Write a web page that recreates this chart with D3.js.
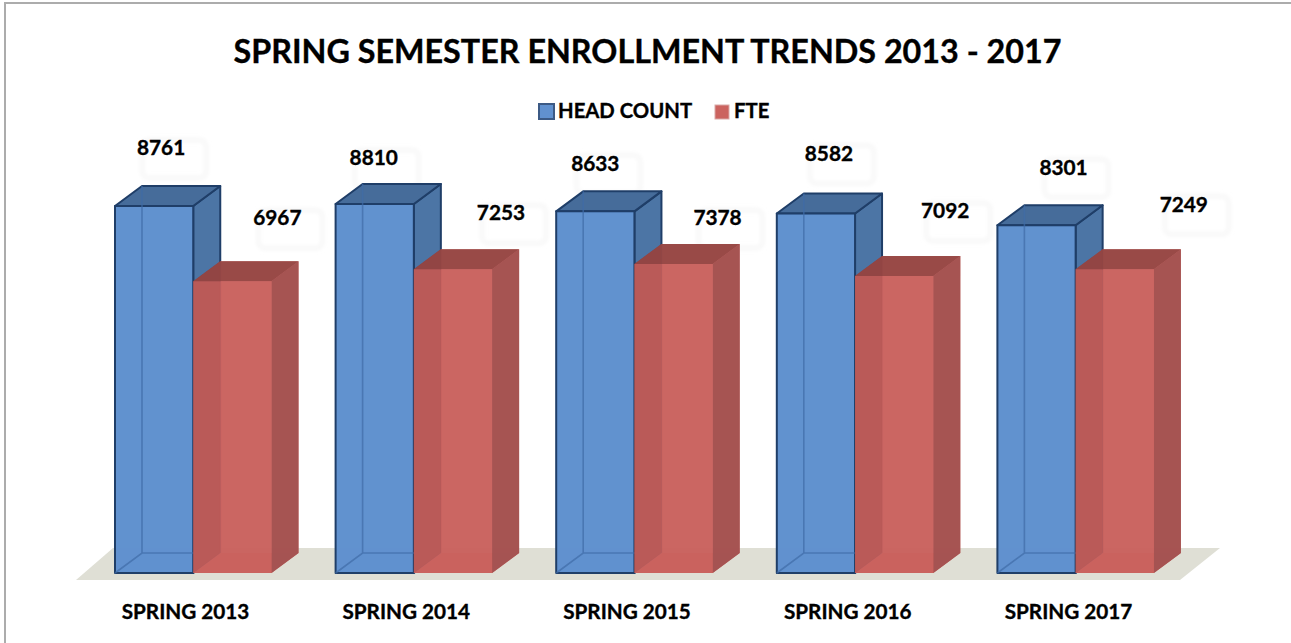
<!DOCTYPE html>
<html><head><meta charset="utf-8">
<script src="https://cdn.jsdelivr.net/npm/d3@7"></script>
<style>html,body{margin:0;padding:0;background:#fff}svg{display:block}text{font-family:Lato,"Open Sans",sans-serif;font-weight:700;fill:#000;stroke:#000;stroke-width:.35px}</style>
</head><body><svg id="c" width="1291" height="643"></svg>
<script>
const categories=["SPRING 2013","SPRING 2014","SPRING 2015","SPRING 2016","SPRING 2017"];
const seriesNames=["HEAD COUNT","FTE"];
const headCount=[8761,8810,8633,8582,8301];
const fte=[6967,7253,7378,7092,7249];
// manual label placement, as in the reference: [dx from bar centre, dy above bar top]
const headNudge=[[7,58],[-1,46],[0,48],[13,60],[27,58]];
const fteNudge=[[45,63],[48,56],[44,46],[51,65],[69,65]];

const W=1291,H=643,dx=27,dy=-20,baseY=573;
const svg=d3.select("#c");
const x=d3.scaleBand().domain(categories).range([115,1218]);
const inner=d3.scaleBand().domain(seriesNames).range([0,156.5]);
const y=d3.scaleLinear().domain([0,8761]).range([baseY,206]);
const pal={
 "HEAD COUNT":{front:"#6191cf",side:"#4b73a2",top:"#436795",back:"#5a89c4",left:"#5a89c4",floor:"#5f8ecb",stroke:"#1f3e68",sw:2,frontOp:.9,inner:"#3f6ba6"},
 "FTE":{front:"#cb635f",side:"#a35251",top:"#934644",back:"#c8605c",left:"#8f3c3c",floor:"#c8605c",stroke:"none",sw:0,frontOp:.76,inner:"#b05050"}
};
const blur=svg.append("defs").append("filter").attr("id","b").attr("x","-30%").attr("y","-30%").attr("width","160%").attr("height","160%");
blur.append("feGaussianBlur").attr("stdDeviation",2);

// image frame: top and left only
svg.append("path").attr("d",`M5,${H} V3 H${W}`).attr("fill","none").attr("stroke","#acacac").attr("stroke-width",2);

// floor
svg.append("polygon").attr("fill","#dfdfd5")
 .attr("points",[[76,580],[113,548],[1220,548],[1180,580]].join(" "));

svg.append("text").attr("x",647.5).attr("y",63).attr("text-anchor","middle")
 .attr("font-size",32.3).text("SPRING SEMESTER ENROLLMENT TRENDS 2013 - 2017");

const poly=(g,pts,fill,op,stroke,sw)=>g.append("polygon").attr("points",pts.join(" "))
  .attr("fill",fill).attr("fill-opacity",op).attr("stroke",stroke||"none").attr("stroke-width",sw||0).attr("stroke-linejoin","round");

const rows=categories.flatMap((c,i)=>[
 {c,s:seriesNames[0],v:headCount[i],n:headNudge[i]},
 {c,s:seriesNames[1],v:fte[i],n:fteNudge[i]}]);

// faint ghost boxes behind everything
rows.forEach(r=>{
 const L=x(r.c)+inner(r.s),R=L+inner.bandwidth();
 r.labelX=(L+R)/2+r.n[0]; r.labelY=y(r.v)-r.n[1];
 svg.append("rect").attr("x",r.labelX-19).attr("y",r.labelY-8).attr("width",64).attr("height",38).attr("rx",6)
  .attr("fill","none").attr("stroke","#f4f4f4").attr("stroke-width",3).attr("filter","url(#b)");
});

rows.forEach(r=>{
 const g=svg.append("g"),p=pal[r.s];
 const L=x(r.c)+inner(r.s),R=L+inner.bandwidth(),T=y(r.v),B=y(0);
 poly(g,[[L+dx,T+dy],[R+dx,T+dy],[R+dx,B+dy],[L+dx,B+dy]],p.back,.9);
 poly(g,[[L,T],[L+dx,T+dy],[L+dx,B+dy],[L,B]],p.left,.9);
 poly(g,[[L,B],[R,B],[R+dx,B+dy],[L+dx,B+dy]],p.floor,1);
 poly(g,[[R,T],[R+dx,T+dy],[R+dx,B+dy],[R,B]],p.side,.95,p.stroke,p.sw);
 poly(g,[[L,T],[L+dx,T+dy],[R+dx,T+dy],[R,T]],p.top,.9,p.stroke,p.sw);
 poly(g,[[L,T],[R,T],[R,B],[L,B]],p.front,p.frontOp,p.stroke,p.sw);
 if(r.s==="HEAD COUNT") g.append("path").attr("fill","none").attr("stroke",p.inner).attr("stroke-width",1.6).attr("stroke-opacity",.7)
  .attr("d",`M${L+dx},${T+dy}V${B+dy}M${L},${B}L${L+dx},${B+dy}H${R+dx}`);
});
rows.forEach(r=>{
 svg.append("text").attr("x",r.labelX).attr("y",r.labelY+2).attr("text-anchor","middle")
  .attr("dominant-baseline","middle").attr("font-size",20.8).text(r.v);
});

// axis
const axis=svg.append("g").attr("transform","translate(0,612)")
 .call(d3.axisBottom(d3.scalePoint().domain(categories).range([185,1068])).tickSize(0).tickPadding(0));
axis.select(".domain").remove();
axis.selectAll("text").attr("font-size",20.7).attr("y",0).attr("dy",".35em").attr("font-family","Lato").attr("fill","#000");

// legend
const legendX=d3.scaleOrdinal().domain(seriesNames).range([539,715]);
seriesNames.forEach(s=>{
 const g=svg.append("g").attr("transform",`translate(${legendX(s)},104)`);
 g.append("rect").attr("width",s==="FTE"?14:15).attr("height",s==="FTE"?14:15).attr("y",s==="FTE"?1:0).attr("fill",pal[s].front)
  .attr("stroke",s==="FTE"?"#d9a9a7":"#3c5a85").attr("stroke-width",s==="FTE"?1:2);
 g.append("text").attr("x",19).attr("y",8.5).attr("dominant-baseline","middle").attr("font-size",20.3).text(s);
});
</script></body></html>
